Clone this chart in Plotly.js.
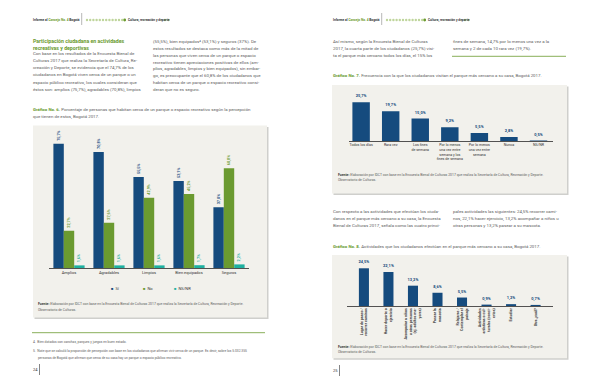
<!DOCTYPE html>
<html><head><meta charset="utf-8">
<script src="https://cdn.plot.ly/plotly-3.0.1.min.js"></script>
<style>html,body{margin:0;padding:0;background:#fff}#chart{width:600px;height:388px}</style>
</head><body><div id="chart"></div>
<script>
// ---- Gráfico No. 6 ----
const percepCats = ['Amplios', 'Agradables', 'Limpios', 'Bien equipados', 'Seguros'];
const percepSeries = ['Sí', 'No', 'NS/NR'];
const percepSi = [75.7, 70.8, 55.5, 53.1, 37.0];
const percepNo = [22.7, 27.6, 42.9, 45.2, 60.8];
const percepNsnr = [1.6, 1.6, 1.6, 1.7, 2.2];

// ---- Gráfico No. 7 ----
const frecCats = ['Todos los días', 'Rara vez', 'Los fines<br>de semana',
  'Por lo menos<br>una vez entre<br>semana y los<br>fines de semana',
  'Por lo menos<br>una vez entre<br>semana', 'Nunca', 'NS/NR'];
const frecVals = [25.7, 19.7, 15.0, 9.2, 5.5, 2.8, 0.5];

// ---- Gráfico No. 8 ----
const actCats = ['Lugar de paseo /<br>recorrer caminos', 'Hacer deporte o<br>ejercicio',
  'Acompañar a niños<br>u otras personas<br>(ej. adultos ma-<br>yores)', 'Pasear la<br>mascota',
  'Relajarse /<br>Contemplar el<br>paisaje', 'Actividades<br>artísticas o cul-<br>turales (conci-<br>ertos)',
  'Estudiar', 'Otra ¿cuál?'];
const actVals = [24.5, 22.1, 13.2, 8.6, 5.5, 0.9, 1.2, 0.7];

const NAVY = '#154b7e', GREEN = '#6b9a30', TEAL = '#1fb0a0', HEAD = '#6a9a2e';
const F = 'Roboto, Arial, sans-serif';
const W = 600, H = 388;
const fmt = v => v.toFixed(1).replace('.', ',') + '%';

const traces = [];
const percepVals = [percepSi, percepNo, percepNsnr];
const percepCols = [NAVY, GREEN, TEAL];
percepSeries.forEach((name, i) => traces.push({
  type: 'bar', name, x: percepCats, y: percepVals[i], xaxis: 'x', yaxis: 'y',
  marker: {color: percepCols[i]}, text: percepVals[i].map(fmt), textposition: 'outside',
  textangle: -90, outsidetextfont: {family: F, size: 3.8, color: percepCols[i], weight: 'bold'},
  cliponaxis: false, constraintext: 'none', hoverinfo: 'none'
}));
traces.push({
  type: 'bar', x: frecCats, y: frecVals, xaxis: 'x2', yaxis: 'y2', width: 0.59, offset: -0.295,
  marker: {color: NAVY}, text: frecVals.map(fmt), textposition: 'outside', textangle: 0,
  outsidetextfont: {family: F, size: 4, color: NAVY, weight: 'bold'},
  cliponaxis: false, constraintext: 'none', hoverinfo: 'none'
});
traces.push({
  type: 'bar', x: actCats, y: actVals, xaxis: 'x3', yaxis: 'y3', width: 0.41, offset: -0.205,
  marker: {color: NAVY}, text: actVals.map(fmt), textposition: 'outside', textangle: 0,
  outsidetextfont: {family: F, size: 4, color: NAVY, weight: 'bold'},
  cliponaxis: false, constraintext: 'none', hoverinfo: 'none'
});

const ann = [], shapes = [];
function T(px, py, text, o = {}) {
  ann.push({xref: 'paper', yref: 'paper', x: px / W, y: 1 - py / H, xanchor: o.xa || 'left',
    yanchor: 'middle', text, showarrow: false, align: 'left', borderpad: 0,
    font: {family: F, size: o.size || 4.4, color: o.color || '#606060', weight: o.weight || 'normal'}});
}
function R(x0, y0, x1, y1, fill) {
  shapes.push({type: 'rect', xref: 'paper', yref: 'paper', x0: x0 / W, x1: x1 / W,
    y0: 1 - y1 / H, y1: 1 - y0 / H, fillcolor: fill, line: {width: 0}, layer: 'below'});
}
function L(x0, y0, x1, y1, color, w) {
  shapes.push({type: 'line', xref: 'paper', yref: 'paper', x0: x0 / W, x1: x1 / W,
    y0: 1 - y0 / H, y1: 1 - y1 / H, line: {color, width: w}, layer: 'below'});
}
function C(cx, cy, r, fill) {
  shapes.push({type: 'circle', xref: 'paper', yref: 'paper', x0: (cx - r) / W, x1: (cx + r) / W,
    y0: 1 - (cy + r) / H, y1: 1 - (cy - r) / H, fillcolor: fill, line: {width: 0}, layer: 'above'});
}
function box(x0, y0, x1, y1) {
  R(x0 + 1.5, y0 + 1.5, x1 + 1.5, y1 + 1.5, '#cfcfcc');
  R(x0, y0, x1, y1, '#f2f1ec');
}
function header(ox) {
  T(ox + 32, 20, 'Informe al <span style="color:#6a9a2e">Concejo No. 4</span> Bogotá', {size: 3.2, color: '#333', weight: 'bold'});
  L(ox + 81.7, 13, ox + 81.7, 25, '#888', 0.6);
  for (let i = 0; i < 12; i++) C(ox + 87 + 3.2 * i, 20, 1.2, '#bfd59c');
  C(ox + 124.7, 20, 1.4, '#6a9a2e');
  T(ox + 127, 20, 'Cultura, recreación y deporte', {size: 3.2, color: '#333', weight: 'bold'});
  C(ox + 165, 20, 1.2, '#bfd59c'); C(ox + 168.5, 20, 1.2, '#bfd59c');
}
const gtitle = (n, t) => '<b><span style="color:' + HEAD + '">Gráfico No. ' + n + '.</span></b> ' + t;
const fuente = '<b><span style="color:#333">Fuente:</span></b> Elaboración por IDCT con base en la Encuesta Bienal de Culturas 2017 que realiza la Secretaría de Cultura, Recreación y Deporte.';

// ---------- LEFT PAGE ----------
header(0);
T(32, 41, 'Participación ciudadana en actividades', {size: 5.2, color: HEAD, weight: 'bold'});
T(32, 47.5, 'recreativas y deportivas', {size: 5.2, color: HEAD, weight: 'bold'});
['Con base en los resultados de la Encuesta Bienal de',
 'Culturas 2017 que realiza la Secretaría de Cultura, Re-',
 'creación y Deporte, se evidencia que el 74,7% de los',
 'ciudadanos en Bogotá viven cerca de un parque o un',
 'espacio público recreativo, los cuales consideran que',
 'éstos son: amplios (75,7%), agradables (70,8%), limpios'
].forEach((s, i) => T(32, 53.3 + 7.2 * i, s));
['(55,5%), bien equipados⁴ (53,1%) y seguros (37%). De',
 'estos resultados se destaca como más de la mitad de',
 'las personas que viven cerca de un parque o espacio',
 'recreativo tienen apreciaciones positivas de ellos (am-',
 'plios, agradables, limpios y bien equipados), sin embar-',
 'go, es preocupante que el 60,8% de los ciudadanos que',
 'habitan cerca de un parque o espacio recreativo consi-',
 'deran que no es seguro.'
].forEach((s, i) => T(152, 41.7 + 6.8 * i, s));
T(32, 109.7, gtitle(6, 'Porcentaje de personas que habitan cerca de un parque o espacio recreativo según la percepción'));
T(32, 116.7, 'que tienen de estos, Bogotá 2017.');
box(33, 125.5, 267, 317.5);
[['Sí', NAVY, 110], ['No', GREEN, 142], ['NS/NR', TEAL, 173]].forEach(([n, c, x]) =>
  T(x, 288, '<span style="color:' + c + '">■</span>  ' + n, {size: 4, color: '#333'}));
T(37, 304, fuente, {size: 3.4});
T(37, 309.5, 'Observatorio de Culturas.', {size: 3.4});
L(32, 332.7, 265, 332.7, HEAD, 0.8);
T(32, 342, '4.  Bien dotados con canchas, parques y juegos en buen estado.', {size: 3.3});
T(32, 350.7, '5.  Note que se calculó la proporción de percepción con base en los ciudadanos que afirman vivir cerca de un parque. Es decir, sobre los 5.032.355', {size: 3.3});
T(37, 357.7, 'personas de Bogotá que afirman que cerca de su casa hay un parque o espacio público recreativo.', {size: 3.3});
T(32, 369.5, '24', {size: 4, color: '#333'});
L(39.5, 364, 39.5, 375, '#333', 0.6);

// ---------- RIGHT PAGE ----------
header(300);
['Así mismo, según la Encuesta Bienal de Culturas',
 '2017, la cuarta parte de los ciudadanos (25,7%) visi-',
 'ta el parque más cercano todos los días, el 15% los'
].forEach((s, i) => T(332, 41.7 + 7 * i, s));
['fines de semana, 14,7% por lo menos una vez a la',
 'semana y 2 de cada 10 rara vez (19,7%).'
].forEach((s, i) => T(452, 41.7 + 7 * i, s));
L(452, 56.3, 566, 56.3, HEAD, 0.8);
T(332, 75.3, gtitle(7, 'Frecuencia con la que los ciudadanos visitan el parque más cercano a su casa, Bogotá 2017.'));
box(332, 85, 567, 193.5);
T(336.5, 175.3, fuente, {size: 3.4});
T(336.5, 180.3, 'Observatorio de Culturas.', {size: 3.4});
['Con respecto a las actividades que efectúan los ciuda-',
 'danos en el parque más cercano a su casa, la Encuesta',
 'Bienal de Culturas 2017, señala como las cuatro princi-'
].forEach((s, i) => T(332, 212 + 6.9 * i, s));
['pales actividades las siguientes: 24,5% recorrer cami-',
 'nos, 22,1% hacer ejercicio, 13,2% acompañar a niños u',
 'otras personas y 13,2% pasear a su mascota.'
].forEach((s, i) => T(452, 212 + 6.9 * i, s));
T(332, 246.7, gtitle(8, 'Actividades que los ciudadanos efectúan en el parque más cercano a su casa, Bogotá 2017.'));
box(332, 255, 567, 358.3);
T(336.5, 347, fuente, {size: 3.4});
T(336.5, 352.2, 'Observatorio de Culturas.', {size: 3.4});
T(332, 370, '25', {size: 4, color: '#333'});
L(339.5, 365, 339.5, 376, '#333', 0.6);

const yd = (top, base) => [1 - base / H, 1 - top / H];
const xax = (x0, x1, range, extra = {}) => Object.assign({
  domain: [x0 / W, x1 / W], range, showline: true, linecolor: '#2a2a2a', linewidth: 0.8,
  ticks: '', showgrid: false, zeroline: false, fixedrange: true,
  tickfont: {family: F, size: 4, color: '#333'}
}, extra);
const yax = (anchor, top, base, range) => ({domain: yd(top, base), range, visible: false, anchor, fixedrange: true});

const layout = {
  width: W, height: H, margin: {l: 0, r: 0, t: 0, b: 0},
  paper_bgcolor: '#ffffff', plot_bgcolor: 'rgba(0,0,0,0)', showlegend: false,
  barmode: 'group', bargap: 0.22, bargroupgap: 0,
  xaxis: xax(49, 249, [-0.5, 4.5], {anchor: 'y'}),
  yaxis: yax('x', 129.6, 268, [0, 84.4]),
  xaxis2: xax(349, 553, [-0.41, 6.49], {anchor: 'y2', tickfont: {family: F, size: 3.6, color: '#333'}}),
  yaxis2: yax('x2', 95.7, 141.3, [0, 30]),
  xaxis3: xax(347, 553, [-0.69, 7.71], {anchor: 'y3', tickangle: -90, tickfont: {family: F, size: 3.6, color: '#333', weight: 'bold'}}),
  yaxis3: yax('x3', 262.9, 306, [0, 28]),
  annotations: ann, shapes: shapes
};
Plotly.newPlot('chart', traces, layout, {displayModeBar: false, staticPlot: true});
</script>
</body></html>
